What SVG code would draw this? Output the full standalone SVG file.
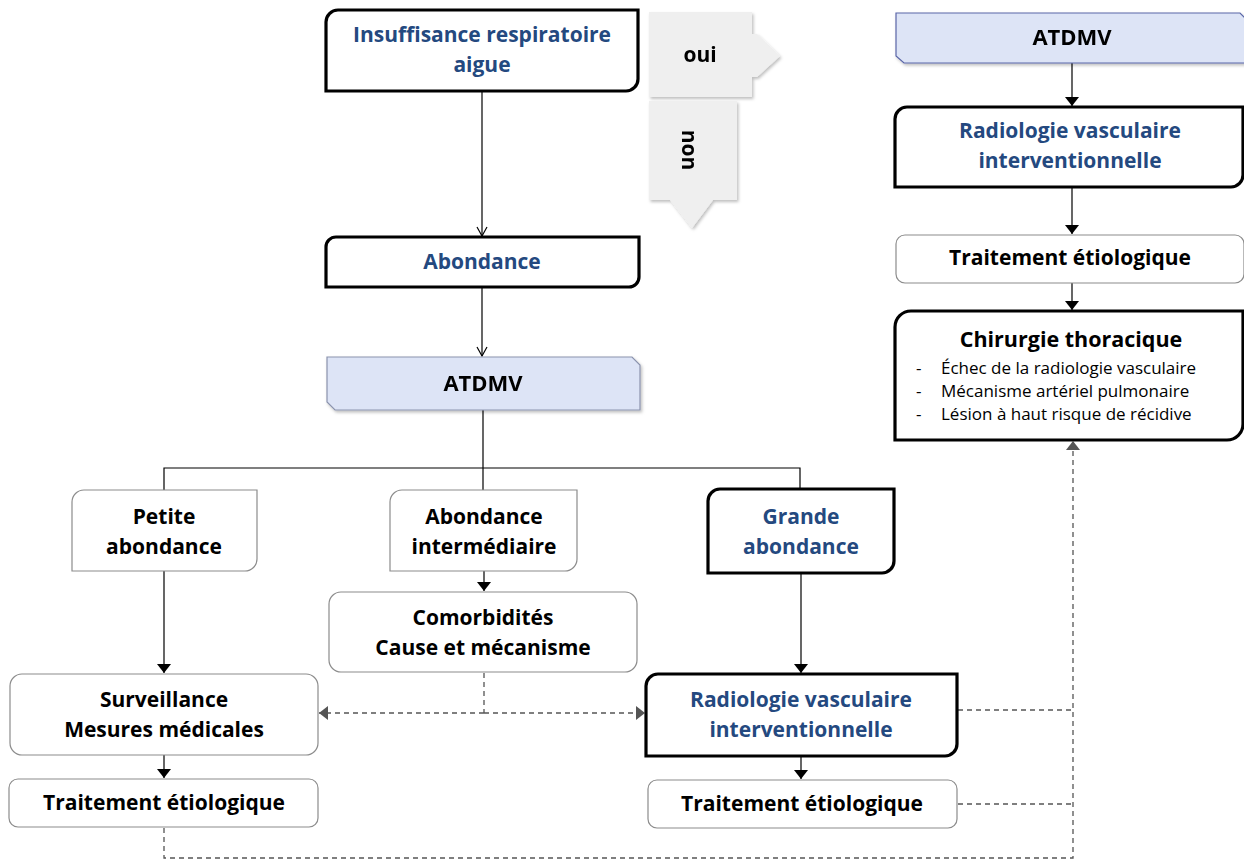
<svg xmlns="http://www.w3.org/2000/svg" width="1244" height="860" viewBox="0 0 1244 860">
<style>
.t{font-family:"Open Sans","Liberation Sans",sans-serif;font-weight:bold;font-size:21px;fill:#000;text-anchor:middle}
.b{fill:#24497f}
.r{font-family:"Open Sans","Liberation Sans",sans-serif;font-size:17px;fill:#000}
.thick{fill:#fff;stroke:#000;stroke-width:3.2}
.thin{fill:#fff;stroke:#8c8c8c;stroke-width:1.2}
.snip{fill:#dde4f6;stroke:#8b93ad;stroke-width:1.2}
.ln{fill:none;stroke:#000;stroke-width:1.2}
.dash{fill:none;stroke:#555;stroke-width:1.3;stroke-dasharray:5 4}
.dec{fill:#efefef}
</style>
<defs>
<marker id="open" viewBox="0 0 12 12" refX="11" refY="6" markerWidth="12" markerHeight="12" markerUnits="userSpaceOnUse" orient="auto"><path d="M2,1 L11,6 L2,11" fill="none" stroke="#000" stroke-width="1.2"/></marker>
<marker id="fill" viewBox="0 0 9 14" refX="9" refY="7" markerWidth="9" markerHeight="14" markerUnits="userSpaceOnUse" orient="auto"><path d="M0,0 L9,7 L0,14 Z" fill="#000"/></marker>
<marker id="gd" viewBox="0 0 9 14" refX="9" refY="7" markerWidth="9" markerHeight="14" markerUnits="userSpaceOnUse" orient="auto"><path d="M0,0 L9,7 L0,14 Z" fill="#555"/></marker>
<filter id="sh" x="-10%" y="-10%" width="130%" height="140%"><feDropShadow dx="1.5" dy="2" stdDeviation="1.5" flood-color="#000" flood-opacity="0.25"/></filter>
</defs>

<g id="connectors">
<path class="ln" d="M482,92 V236" marker-end="url(#open)"/>
<path class="ln" d="M482,287 V356" marker-end="url(#open)"/>
<path class="ln" d="M483,410 V490"/>
<path class="ln" d="M164,490 V468 H800 V489"/>
<path class="ln" d="M164,571 V673" marker-end="url(#fill)"/>
<path class="ln" d="M484,571 V591" marker-end="url(#fill)"/>
<path class="ln" d="M801,574 V673" marker-end="url(#fill)"/>
<path class="ln" d="M164,755 V778" marker-end="url(#fill)"/>
<path class="ln" d="M801,757 V779" marker-end="url(#fill)"/>
<path class="ln" d="M1072,63 V106" marker-end="url(#fill)"/>
<path class="ln" d="M1072,188 V234" marker-end="url(#fill)"/>
<path class="ln" d="M1072,283 V310" marker-end="url(#fill)"/>
<path class="dash" d="M484,673 V713"/>
<path class="dash" d="M484,713 H319" marker-end="url(#gd)"/>
<path class="dash" d="M484,713 H645" marker-end="url(#gd)"/>
<path class="dash" d="M958,710 H1073"/>
<path class="dash" d="M958,804 H1073"/>
<path class="dash" d="M164,828 V858 H1073 V441" marker-end="url(#gd)"/>
</g>

<g id="n-insuffisance">
<path class="thick" d="M338,10 H638 V79 A12,12 0 0 1 626,91 H326 V22 A12,12 0 0 1 338,10 Z"/>
<text class="t b" x="482" y="42">Insuffisance respiratoire</text>
<text class="t b" x="482" y="72">aigue</text>
</g>

<g id="n-oui" filter="url(#sh)">
<path class="dec" d="M649,12 H752 V34 H757 L780,56 L757,77 H752 V97 H649 Z"/>
<text class="t" x="700" y="62">oui</text>
</g>
<g id="n-non" filter="url(#sh)">
<path class="dec" d="M649,101 H737 V200 H713 L692,228 L670,200 H649 Z"/>
<text class="t" transform="translate(682,150) rotate(90)">non</text>
</g>

<g id="n-abondance">
<path class="thick" d="M336,237 H639 V277 A10,10 0 0 1 629,287 H326 V247 A10,10 0 0 1 336,237 Z"/>
<text class="t b" x="482" y="269">Abondance</text>
</g>

<g id="n-atdmv1" filter="url(#sh)">
<path class="snip" d="M327,357 H632 L640,365 V410 H335 L327,402 Z"/>
<text class="t" x="483" y="391" style="font-size:22px">ATDMV</text>
</g>

<g id="n-petite">
<path class="thin" d="M84,490 H257 V559 A12,12 0 0 1 245,571 H72 V502 A12,12 0 0 1 84,490 Z"/>
<text class="t" x="164" y="524">Petite</text>
<text class="t" x="164" y="554">abondance</text>
</g>

<g id="n-intermediaire">
<path class="thin" d="M402,490 H577 V559 A12,12 0 0 1 565,571 H390 V502 A12,12 0 0 1 402,490 Z"/>
<text class="t" x="484" y="524">Abondance</text>
<text class="t" x="484" y="554">intermédiaire</text>
</g>

<g id="n-grande">
<path class="thick" d="M720,489 H894 V561 A12,12 0 0 1 882,573 H708 V501 A12,12 0 0 1 720,489 Z"/>
<text class="t b" x="801" y="524">Grande</text>
<text class="t b" x="801" y="554">abondance</text>
</g>

<g id="n-comorbidites">
<rect class="thin" x="329" y="592" width="308" height="80" rx="12"/>
<text class="t" x="483" y="625">Comorbidités</text>
<text class="t" x="483" y="655">Cause et mécanisme</text>
</g>

<g id="n-surveillance">
<rect class="thin" x="10" y="674" width="308" height="81" rx="12"/>
<text class="t" x="164" y="707">Surveillance</text>
<text class="t" x="164" y="737">Mesures médicales</text>
</g>

<g id="n-traitement1">
<rect class="thin" x="9" y="779" width="309" height="48" rx="9"/>
<text class="t" x="164" y="810">Traitement étiologique</text>
</g>

<g id="n-radiologie1">
<path class="thick" d="M658,674 H957 V744 A12,12 0 0 1 945,756 H646 V686 A12,12 0 0 1 658,674 Z"/>
<text class="t b" x="801" y="707">Radiologie vasculaire</text>
<text class="t b" x="801" y="737">interventionnelle</text>
</g>

<g id="n-traitement2">
<rect class="thin" x="648" y="780" width="309" height="48" rx="9"/>
<text class="t" x="802" y="811">Traitement étiologique</text>
</g>

<g id="n-atdmv2" filter="url(#sh)">
<path class="snip" style="stroke:#5a66a8" d="M896,13 H1240 L1246,19 V63 H904 L896,56 Z"/>
<text class="t" x="1072" y="45" style="font-size:22px">ATDMV</text>
</g>

<g id="n-radiologie2">
<path class="thick" d="M907,107 H1243 V175 A12,12 0 0 1 1231,187 H895 V119 A12,12 0 0 1 907,107 Z"/>
<text class="t b" x="1070" y="138">Radiologie vasculaire</text>
<text class="t b" x="1070" y="168">interventionnelle</text>
</g>

<g id="n-traitement3">
<rect class="thin" x="896" y="235" width="348" height="48" rx="9"/>
<text class="t" x="1070" y="265">Traitement étiologique</text>
</g>

<g id="n-chirurgie">
<path class="thick" d="M911,311 H1243 V424 A16,16 0 0 1 1227,440 H895 V327 A16,16 0 0 1 911,311 Z"/>
<text class="t" x="1071" y="347" style="font-size:21.5px">Chirurgie thoracique</text>
<text class="r" x="916" y="374">-</text><text class="r" x="941" y="374">Échec de la radiologie vasculaire</text>
<text class="r" x="916" y="397">-</text><text class="r" x="941" y="397">Mécanisme artériel pulmonaire</text>
<text class="r" x="916" y="420">-</text><text class="r" x="941" y="420">Lésion à haut risque de récidive</text>
</g>
</svg>
